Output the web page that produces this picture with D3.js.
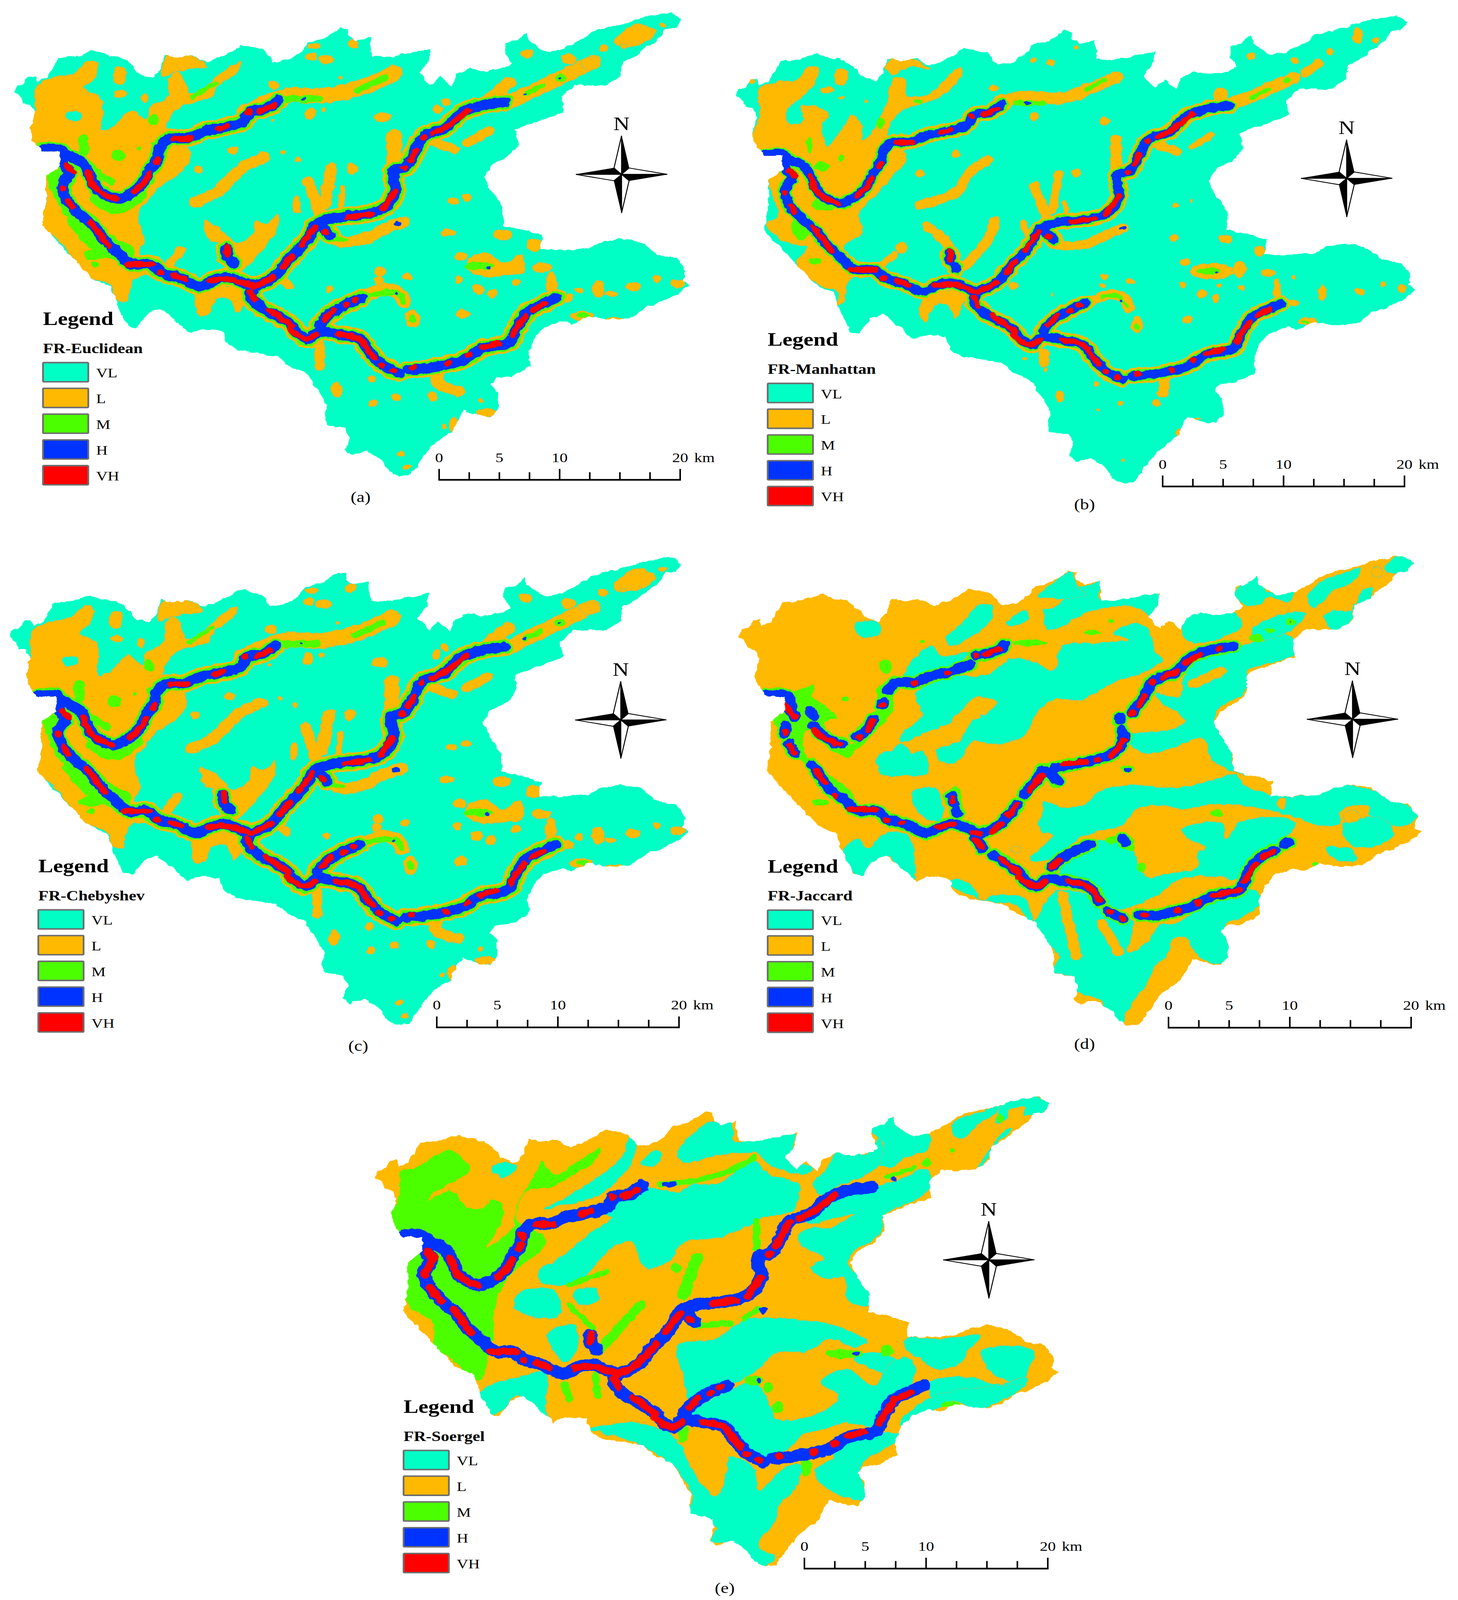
<!DOCTYPE html>
<html>
<head>
<meta charset="utf-8">
<script src="https://cdn.jsdelivr.net/npm/d3@7"></script>
<style>
  html, body { margin: 0; background: #fff; overflow: hidden; }
  text { font-family: "Liberation Serif", serif; fill: #000; }
</style>
</head>
<body>
<div id="chart"></div>
<script>
// classes and their colours
const classes = ["VL", "L", "M", "H", "VH"]
const classColors = ["#00ffc5", "#ffb900", "#4cff00", "#0033ff", "#ff0000"]
const scaleTicks = [0, 2.5, 5, 7.5, 10, 12.5, 15, 17.5, 20]
const scaleLabels = [0, 5, 10, 20]

// basin boundary, same for every map
const basinOutline = [[30,285],[35,265],[52,258],[60,235],[75,232],[80,252],[100,240],[115,205],[125,180],[160,175],[205,155],[235,170],[260,175],[290,205],[297,225],[330,240],[345,215],[355,170],[385,178],[415,170],[445,192],[470,180],[500,160],[520,140],[545,145],[570,155],[590,190],[620,185],[650,160],[665,130],[695,120],[715,105],[735,85],[752,90],[750,110],[770,125],[800,115],[805,175],[835,175],[880,165],[930,150],[925,190],[905,225],[930,262],[950,235],[975,265],[985,230],[1015,210],[1045,220],[1090,210],[1105,195],[1090,165],[1090,135],[1115,125],[1135,100],[1140,125],[1165,150],[1180,160],[1215,150],[1250,125],[1275,100],[1310,85],[1340,75],[1385,55],[1420,45],[1450,38],[1470,60],[1460,85],[1435,90],[1425,115],[1395,145],[1375,170],[1345,190],[1340,235],[1310,262],[1270,265],[1240,262],[1212,300],[1218,345],[1180,365],[1130,390],[1113,400],[1118,445],[1100,480],[1060,510],[1045,545],[1060,590],[1085,640],[1085,695],[1120,705],[1170,725],[1165,770],[1220,770],[1270,765],[1300,745],[1340,735],[1380,745],[1420,785],[1460,795],[1480,835],[1473,865],[1488,878],[1465,905],[1420,935],[1395,945],[1370,975],[1340,985],[1310,985],[1270,975],[1235,1000],[1215,990],[1175,1010],[1155,1040],[1140,1090],[1145,1130],[1105,1160],[1070,1165],[1060,1185],[1075,1210],[1075,1260],[1060,1285],[1030,1280],[1000,1265],[975,1330],[935,1370],[915,1405],[885,1465],[860,1468],[840,1455],[825,1420],[790,1390],[760,1405],[745,1385],[755,1350],[745,1320],[705,1310],[700,1280],[705,1250],[685,1200],[660,1150],[625,1130],[600,1100],[555,1090],[515,1080],[490,1060],[480,1020],[435,1015],[410,1030],[380,990],[345,950],[320,965],[295,1010],[275,1005],[250,930],[240,885],[200,860],[160,800],[120,740],[90,695],[100,620],[98,545],[130,510],[130,467],[90,467],[70,430],[65,395],[75,350],[65,325],[50,320],[45,300]]

// river reaches, same for every map except (d)
const northReach = [[90,463],[130,462],[145,480],[165,492],[185,515],[195,545],[205,575],[225,600],[255,612],[290,590],[310,560],[325,520],[340,490],[345,455],[365,428],[405,425],[440,405],[475,395],[525,375],[540,345],[575,335],[600,310]]
const southReach = [[130,480],[140,515],[150,530],[135,575],[145,620],[175,665],[200,695],[225,740],[255,780],[285,815],[325,815],[350,842],[385,855],[430,882],[465,862],[490,855],[525,872],[545,885],[540,910],[565,950],[600,975],[630,1005],[640,1025],[665,1045],[690,1022],[730,1030],[775,1045],[800,1090],[825,1125],[860,1150]]
const eastReach = [[880,1140],[920,1135],[960,1125],[1000,1110],[1040,1075],[1100,1055],[1115,1010],[1140,960],[1175,935],[1200,918]]
const middleReach = [[545,885],[590,855],[620,805],[660,745],[685,690],[720,672],[790,660],[830,640],[853,590],[848,545],[850,525],[875,515],[895,470],[915,420],[960,395],[1000,345],[1050,322],[1090,315]]
const branchD = [[690,1000],[715,965],[745,940],[780,918]]
const branchE = [[490,790],[488,765]]
const branchE2 = [[500,805],[503,812]]
const spurReach = [[695,700],[712,725]]
const reachesFull = [northReach, southReach, eastReach, middleReach, branchD, branchE, branchE2, spurReach]

// broken reaches of map (d)
const reachesD = [
  [[183,512],[190,525]],[[190,555],[205,580],[225,600],[250,612]],[[283,590],[300,575],[318,535]],[[335,495],[338,485]],
  [[348,450],[365,425],[405,425],[440,405],[475,395],[525,370]],[[536,342],[540,342]],[[555,340],[585,325],[597,310]],
  [[90,463],[130,462],[140,480],[145,500]],[[130,490],[150,530]],[[132,555],[128,580]],[[138,610],[150,640]],
  [[188,675],[205,710],[225,750],[255,780],[285,815],[325,815],[350,842],[385,855],[430,882],[465,862],[490,855],[525,872],[545,885]],
  [[535,900],[550,930]],[[575,950],[600,975],[630,1005],[640,1025],[665,1045],[690,1022],[730,1030],[775,1045],[800,1090]],
  [[820,1122],[850,1143]],[[885,1132],[920,1135],[965,1120],[1000,1105],[1040,1075],[1100,1055],[1115,1010],[1140,960],[1175,935]],
  [[1195,915],[1205,910]],[[545,885],[590,855],[625,795]],[[640,765],[670,715],[680,690]],
  [[705,685],[790,660],[830,640],[853,590],[848,570]],[[845,530],[845,540]],
  [[870,515],[895,470],[915,420],[960,395],[1000,345],[1050,322],[1085,315]],
  [[700,985],[720,960],[745,940],[780,918]],[[850,900],[858,912]],[[490,790],[485,770]],[[494,815],[496,822]],[[695,700],[712,725]]
]

// very high stretches along the rivers
const vhStretches = [
  [[190,530],[200,570],[225,600],[250,612]],[[290,590],[312,560],[322,535]],[[337,500],[342,490]],[[375,428],[410,428]],[[470,398],[490,388]],[[535,345],[538,345]],[[560,342],[590,325]],
  [[143,510],[158,530]],[[134,580],[136,582]],[[147,620],[155,640]],[[195,685],[215,720],[235,760]],[[275,815],[330,815]],[[345,842],[348,842]],[[375,850],[400,862]],
  [[455,865],[490,860],[525,872],[548,885]],[[540,900],[550,925]],[[580,955],[610,985],[630,1005]],[[625,1015],[660,1045],[685,1030]],[[730,1030],[775,1045],[800,1090],[810,1105]],
  [[822,1125],[825,1128]],[[848,1143],[851,1145]],[[890,1133],[894,1133]],[[965,1122],[968,1121]],[[1010,1095],[1013,1093]],[[1040,1072],[1075,1058]],[[1105,1035],[1120,1000],[1135,975]],[[1150,955],[1175,938]],
  [[548,885],[590,855]],[[610,825],[630,790]],[[650,755],[680,700]],[[700,715],[704,718]],[[750,670],[800,660]],[[825,645],[853,590]],[[870,520],[873,518]],[[885,495],[897,465]],[[913,425],[915,422]],[[935,410],[970,385],[1010,340]],
  [[700,985],[720,955]],[[745,942],[748,940]],[[765,925],[768,923]],[[490,785],[490,760]]
]
const vhStretchesD = [
  [[190,570],[215,595],[245,612]],[[288,592],[290,591]],[[305,570],[318,540]],[[335,495],[337,492]],[[405,428],[408,427]],[[475,395],[478,394]],[[535,342],[538,342]],[[555,340],[585,322]],
  [[130,495],[150,530]],[[130,575],[131,578]],[[140,615],[150,640]],[[195,690],[215,730]],[[235,770],[237,772]],[[270,810],[325,812]],[[345,842],[348,843]],[[378,850],[381,851]],
  [[455,865],[490,855]],[[530,880],[545,885]],[[535,905],[550,925]],[[590,960],[630,1005]],[[625,1015],[665,1045],[685,1030]],[[735,1030],[775,1045],[800,1085]],[[822,1122],[825,1125]],[[848,1143],[851,1145]],
  [[895,1132],[898,1132]],[[965,1120],[968,1119]],[[1010,1095],[1013,1093]],[[1045,1072],[1100,1055]],[[1110,1030],[1135,975]],[[1150,955],[1172,938]],
  [[570,880],[590,855]],[[605,830],[625,795]],[[650,755],[680,705]],[[725,672],[770,665]],[[795,660],[798,659]],[[825,650],[853,600]],[[868,518],[871,517]],[[885,495],[897,465]],[[913,425],[915,422]],[[935,410],[965,390]],[[985,365],[1015,340]],[[1055,322],[1058,321]],[[700,985],[715,965]],[[488,785],[487,775]]
]
const vhExtraE = [[[140,515],[150,530],[138,570]],[[145,622],[172,662]],[[345,470],[343,458]],[[895,470],[912,428]],[[1118,1005],[1140,960]],[[755,668],[790,660]],[[580,862],[610,825]]]

// zones of maps (a) and (c), in basin units
const lowPatchesA = [
  [[78,270],[110,240],[160,225],[190,190],[208,195],[205,240],[180,270],[215,300],[222,340],[220,400],[240,395],[285,340],[315,370],[325,330],[360,300],[365,240],[385,222],[400,255],[410,290],[440,270],[480,220],[520,190],[510,225],[470,265],[455,300],[400,322],[375,345],[360,400],[400,440],[410,490],[385,540],[345,575],[320,620],[300,650],[302,700],[312,740],[300,780],[330,840],[290,860],[278,900],[272,930],[250,925],[240,880],[185,850],[160,800],[125,740],[90,695],[100,620],[97,545],[130,510],[130,467],[85,465],[65,400],[75,345]],
  [[440,680],[480,710],[510,750],[545,720],[550,680],[575,690],[600,660],[600,700],[560,780],[515,840],[490,820],[490,755],[450,740],[440,700]],
  [[425,895],[525,895],[530,930],[510,965],[495,920],[465,925],[455,960],[430,975]],
  [[350,235],[362,172],[420,175],[445,205],[400,215],[375,225]],
  [[1010,800],[1050,780],[1085,810],[1125,785],[1130,840],[1085,850],[1050,855],[1010,830]],
  [[1325,130],[1370,75],[1395,80],[1415,100],[1395,130],[1340,145]]
]
const lowStripsA = [
  [[[420,625],[470,590],[520,520],[570,485]], 26],[[[665,560],[690,660]], 24],[[[715,520],[700,630]], 26],[[[740,580],[735,650]], 12],
  [[[850,420],[850,510]], 32],[[[920,430],[980,460]], 22],[[[1010,440],[1055,405]], 22],[[[1100,315],[1150,280],[1210,240],[1280,190]], 34],
  [[[1060,300],[1100,255]], 28],[[[530,345],[620,295],[700,295],[790,265],[850,225]], 38],[[[690,710],[740,745],[790,735],[830,705],[870,685]], 28],
  [[[360,830],[390,770]], 20],[[[690,1060],[690,1130]], 20],[[[950,1125],[945,1180],[990,1205]], 26],[[[640,615],[640,650]], 14],[[[600,855],[625,880]], 18],
  [[[780,918],[830,892],[860,905],[872,932]], 30]
]
const lowBlobsA = [[705,183,18,14],[672,175,12,12],[678,143,14,10],[762,135,12,14],[590,262,13,14],[670,350,12,18],[825,362,18,15],[503,465,11,12],[428,523,10,12],[760,520,13,18],[312,302,8,14],[260,290,14,12],[258,232,15,28],[945,337,9,15],[963,315,9,12],[978,620,12,11],[1008,610,10,11],[968,718,16,12],[1085,725,20,18],[1153,755,16,20],[995,792,14,14],[1170,825,20,15],[990,862,10,11],[1032,892,14,16],[1062,905,11,14],[1115,870,10,12],[820,838,12,14],[817,865,10,14],[878,852,11,11],[710,892,8,11],[998,968,14,15],[890,982,16,28],[802,1168,9,12],[726,1202,12,24],[855,1225,10,12],[933,1222,10,14],[805,1243,9,12],[1190,875,12,40],[1250,895,8,10],[1227,918,12,14],[1292,890,13,28],[1318,905,14,8],[1367,884,16,14],[1418,860,8,12],[1463,875,16,14],[1255,975,25,15],[1325,985,20,6],[1137,165,14,15],[1228,182,16,16],[1303,148,10,12],[1345,143,8,7],[1430,78,8,8],[1275,195,22,20],[1050,1272,25,12],[980,1310,10,25],[958,1315,7,8],[865,1400,9,9],[878,1440,9,8],[1040,1235,5,8],[588,372,5,5],[643,492,7,7],[700,338,6,8],[610,470,6,8],[735,240,5,5]]
const vlBlobsA = [[160,358,18,15]]
const medStripsA = [
  [[[770,280],[830,240]], 15],[[[620,305],[690,305]], 18],[[[415,300],[465,255]], 10],[[[1135,290],[1170,265]], 12],
  [[[210,610],[255,640],[300,600]], 34],[[[180,430],[180,470]], 22],[[[170,680],[215,745],[265,780]], 52],[[[115,540],[130,600],[150,650]], 30],[[[145,480],[240,560]], 18],[[[700,735],[745,740]], 10],[[[815,905],[860,905],[870,930]], 14],[[[780,918],[815,905]], 12]
]
const medBlobsA = [[330,370,11,18],[255,480,15,18],[205,815,10,10],[205,785,26,16],[1035,820,32,12],[890,982,8,14],[1258,972,14,7],[1210,240,12,12],[300,458,5,6],[335,445,10,8]]
const highBlobsA = [[858,690,9,8],[655,305,5,3],[855,905,4,5],[1055,825,5,6],[1210,240,3,3],[1195,918,5,3],[1133,290,4,3]]

// zones of map (b), in crop units
const lowPatchesB = [
  [[70,265],[110,245],[150,240],[175,200],[195,205],[190,250],[170,280],[130,330],[130,370],[165,365],[160,320],[195,320],[220,345],[205,375],[215,440],[240,400],[270,345],[290,380],[290,420],[310,400],[340,320],[360,235],[385,240],[385,285],[430,285],[500,200],[505,220],[460,290],[400,320],[365,345],[345,410],[370,430],[385,480],[355,530],[325,580],[285,640],[290,700],[250,745],[280,790],[320,810],[265,840],[250,910],[235,915],[240,880],[190,850],[150,790],[170,745],[120,725],[85,670],[110,650],[90,540],[120,510],[120,470],[75,465],[55,410],[70,350]],
  [[340,200],[352,178],[400,178],[435,208],[395,200],[355,225]],
  [[425,890],[510,880],[505,920],[490,955],[470,915],[445,920],[425,968],[415,950]]
]
const lowStripsB = [
  [[[415,615],[490,580],[520,520],[560,480]], 22],[[[430,680],[465,720],[490,770]], 22],[[[575,665],[560,720],[510,800]], 22],[[[660,560],[685,650]], 22],
  [[[712,520],[698,630]], 18],[[[725,610],[730,650]], 10],[[[635,670],[650,720]], 14],[[[835,420],[835,510]], 24],[[[925,435],[965,455]], 20],[[[1000,440],[1040,405]], 14],
  [[[680,1060],[680,1090]], 20],[[[940,1135],[935,1180]], 24],[[[700,735],[770,735],[800,715],[850,685]], 22],[[[585,305],[640,290],[720,295],[780,265],[835,232]], 28],
  [[[1080,315],[1150,275],[1215,235]], 30],[[[1240,220],[1270,190]], 20],[[[330,800],[360,765]], 16],[[[770,915],[820,885],[850,895],[862,925]], 24]
]
const lowBlobsB = [[415,521,9,11],[491,463,9,10],[573,265,10,10],[659,350,9,13],[810,365,12,12],[750,520,11,14],[695,188,10,10],[658,182,7,8],[748,143,6,8],[1125,170,10,11],[1218,183,9,10],[1293,155,8,10],[1390,122,8,10],[1353,108,12,24],[963,617,7,7],[997,604,4,5],[960,715,10,10],[1068,718,14,13],[1143,755,12,14],[984,787,12,12],[1040,815,48,24],[1100,810,14,24],[1160,820,16,12],[978,855,8,8],[1020,882,11,13],[1048,897,9,12],[1056,858,5,6],[1103,865,7,8],[1215,833,5,5],[1180,870,8,35],[1216,910,11,10],[1277,880,9,24],[1356,875,11,11],[1408,854,7,9],[1447,866,9,12],[1245,965,22,12],[810,832,8,10],[806,858,6,7],[866,846,9,8],[698,885,3,7],[988,960,11,12],[880,975,13,24],[792,1155,6,7],[714,1190,9,19],[845,1212,6,7],[920,1210,9,12],[795,1233,4,5],[639,1078,5,5],[683,1110,5,6],[850,1385,4,4],[968,1300,6,14],[1010,1260,6,3],[245,232,15,25],[215,270,14,10],[245,293,8,5],[300,305,5,5],[52,245,8,8],[1060,285,16,22],[375,745,12,18],[615,858,10,10]]
const medStripsB = [[[[770,270],[810,240]], 11],[[[620,310],[680,310]], 13],[[[1125,295],[1160,268]], 10],[[[805,892],[840,890],[858,920]], 9]]
const medBlobsB = [[410,305,9,6],[330,370,8,18],[1202,240,8,8],[1035,815,25,10],[880,980,6,10],[1240,966,10,5],[190,785,14,10],[245,475,7,12],[178,435,6,25],[205,500,16,14],[210,615,28,18],[160,680,22,40]]
const highBlobsB = [[645,310,8,5],[850,686,7,5],[1050,820,3,3],[845,902,4,5]]

// zones of map (d), in crop units, L is the ground colour here
const veryLowPatchesD = [
  [[1415,60],[1450,33],[1472,60],[1460,85],[1430,90],[1410,75]],
  [[1245,170],[1270,120],[1340,80],[1360,72],[1345,115],[1300,145],[1260,200]],
  [[1090,150],[1135,100],[1160,150],[1215,150],[1205,180],[1165,165],[1130,195],[1095,175]],
  [[1300,270],[1280,230],[1300,210],[1345,205],[1360,150],[1385,135],[1375,175],[1345,190],[1340,235],[1310,270]],
  [[1190,280],[1218,300],[1218,345],[1180,370],[1115,400],[1118,445],[1100,480],[1060,510],[1045,545],[1060,590],[1085,620],[1085,695],[1120,725],[1090,720],[1040,680],[1030,640],[1020,610],[960,640],[900,660],[870,640],[865,600],[930,590],[985,560],[965,530],[935,505],[920,470],[970,480],[980,420],[1010,360],[1050,340],[1100,320],[1180,290]],
  [[375,600],[420,540],[405,470],[480,420],[560,410],[610,360],[660,370],[700,400],[720,320],[800,310],[860,300],[830,280],[870,250],[900,260],[920,340],[935,360],[900,400],[840,430],[800,460],[760,490],[700,490],[665,530],[640,600],[580,630],[530,620],[490,690],[455,680],[450,650],[500,620],[520,570],[580,500],[540,480],[500,530],[470,570],[430,590],[375,625]],
  [[325,665],[355,650],[375,630],[400,660],[420,650],[430,720],[370,730],[330,725]],
  [[680,810],[720,830],[770,820],[800,780],[870,760],[960,770],[1050,740],[1090,725],[1110,760],[1170,790],[1230,795],[1320,760],[1370,770],[1440,810],[1480,850],[1470,880],[1425,890],[1380,860],[1375,825],[1315,840],[1315,880],[1280,890],[1215,860],[1130,830],[1050,820],[975,835],[935,825],[880,835],[850,885],[800,905],[760,925],[700,990],[650,1000],[680,950],[700,920],[670,900],[680,830]],
  [[720,1000],[770,950],[840,935],[880,990],[880,1010],[900,1050],[950,1040],[1010,1020],[1010,975],[1030,960],[990,930],[975,900],[1060,880],[1070,930],[1100,880],[1170,860],[1220,880],[1180,950],[1120,1010],[1090,1060],[1060,1050],[1000,1050],[970,1060],[920,1110],[870,1145],[830,1150],[780,1090],[720,1060]],
  [[480,1060],[520,1070],[550,1130],[570,1110],[640,1120],[660,1190],[700,1100],[760,1100],[800,1150],[870,1190],[860,1290],[900,1260],[930,1200],[960,1200],[985,1180],[1060,1120],[1130,1090],[1145,1130],[1110,1175],[1070,1200],[1075,1260],[1075,1320],[1030,1320],[1010,1300],[1000,1280],[980,1240],[955,1250],[945,1300],[920,1330],[900,1390],[860,1470],[845,1520],[820,1480],[800,1440],[760,1420],[745,1405],[745,1370],[700,1350],[715,1300],[700,1280],[670,1225],[650,1200],[620,1140],[570,1130],[540,1120],[480,1075]],
  [[250,965],[285,930],[300,960],[345,910],[390,920],[400,1070],[380,1040],[345,985],[320,1000],[295,1045],[275,1040]],
  [[400,780],[450,770],[460,870],[430,870],[400,820]],
  [[275,250],[325,245],[325,285],[285,290]],
  [[510,240],[540,190],[570,190],[560,250],[480,320],[470,300]],
  [[600,250],[640,205],[645,240],[610,255]],
  [[680,205],[700,200],[745,140],[780,125],[800,115],[800,170],[870,160],[925,150],[925,190],[910,225],[870,195],[780,210],[690,270],[680,220]],
  [[670,155],[700,120],[740,85],[750,130],[770,160],[700,170],[670,165]],
  [[380,420],[400,360],[440,320],[460,350],[520,340],[510,360],[450,400],[390,425]],
  [[985,230],[1015,210],[1090,215],[1105,255],[1050,300],[1000,310],[980,290]],
  [[1125,270],[1170,230],[1240,215],[1210,270],[1150,300]],
  [[1320,885],[1405,865],[1430,915],[1400,950],[1345,955]],
  [[1285,960],[1340,965],[1350,1000],[1300,990]]
]
const lowStripsD = [[[[720,1110],[750,1300]], 22],[[[805,1200],[840,1285]], 22],[[[1000,440],[1060,400]], 22],[[[1395,85],[1395,88]], 22]]
const lowBlobsD = [[620,965,10,10],[1190,820,10,20],[1340,860,18,20]]
const medPatchesD = [[[80,470],[130,465],[170,450],[185,445],[185,480],[230,530],[235,550],[210,560],[240,630],[280,620],[275,590],[310,540],[330,510],[320,455],[340,440],[360,500],[350,540],[320,590],[300,620],[260,670],[225,650],[170,590],[165,640],[175,680],[260,770],[270,790],[270,830],[200,740],[160,680],[130,620],[100,550],[125,525]]]
const medBlobsD = [[340,385,14,22],[825,240,8,6],[785,278,18,8],[1210,243,11,12],[1135,295,14,14],[1165,270,10,8],[650,310,38,10],[420,305,7,5],[255,488,7,7],[1050,850,15,10],[890,1020,10,16],[1260,1010,8,5],[200,815,18,10],[860,710,14,12],[825,935,14,12],[865,955,10,14],[495,830,12,18],[490,790,12,25],[710,745,14,14]]
const highBlobsD = [[860,712,9,7],[853,935,4,7],[1210,243,2,2]]

// zones of map (e), in crop units, L is the ground colour here
const veryLowPatchesE = [
  [[1375,85],[1440,68],[1475,90],[1460,115],[1420,125],[1420,100],[1390,110],[1385,135],[1360,150],[1370,100]],
  [[1270,150],[1330,115],[1370,95],[1360,120],[1330,145],[1290,195],[1275,190]],
  [[1095,165],[1140,130],[1165,165],[1220,180],[1215,230],[1170,250],[1140,280],[1100,260],[1125,210]],
  [[1320,290],[1340,240],[1385,165],[1395,170],[1365,205],[1340,260]],
  [[1215,285],[1222,340],[1190,380],[1125,420],[1120,470],[1100,500],[1060,530],[1050,570],[1085,620],[1095,690],[1050,680],[1040,610],[1000,610],[970,580],[995,550],[950,510],[945,480],[970,460],[1010,460],[1060,420],[1000,440],[960,450],[985,390],[1070,350],[1150,320]],
  [[405,405],[470,355],[570,250],[590,185],[600,220],[590,270],[520,365],[450,390]],
  [[610,270],[640,230],[655,235],[640,275]],
  [[690,230],[750,150],[800,140],[810,205],[860,190],[935,180],[930,240],[950,270],[975,280],[960,300],[880,270],[860,240],[770,245],[700,265]],
  [[535,420],[600,340],[650,345],[690,355],[720,330],[770,330],[850,260],[880,300],[930,320],[945,330],[930,410],[870,430],[830,460],[770,490],[700,505],[670,560],[620,580],[590,500],[540,530],[490,610],[455,630],[400,620],[395,590],[440,550],[510,470],[550,430]],
  [[1000,290],[1030,230],[1090,240],[1115,190],[1120,260],[1090,300],[1020,340],[990,360],[975,330]],
  [[350,660],[385,640],[430,650],[440,720],[400,730],[345,700]],
  [[470,650],[515,640],[520,680],[480,690]],
  [[415,770],[470,750],[475,830],[450,860],[420,810]],
  [[690,810],[770,790],[830,735],[920,730],[1040,760],[1090,800],[1060,815],[1010,790],[960,830],[900,830],[860,880],[830,910],[750,950],[720,990],[700,900]],
  [[1170,790],[1250,790],[1330,780],[1300,830],[1290,860],[1240,880],[1200,850],[1170,820]],
  [[1330,830],[1400,810],[1440,830],[1430,880],[1410,920],[1360,900],[1340,870]],
  [[1220,920],[1300,905],[1370,925],[1425,905],[1420,935],[1350,950],[1270,970],[1230,970]],
  [[1090,830],[1150,850],[1180,890],[1140,900],[1100,880],[1060,850]],
  [[295,280],[330,265],[350,280],[320,310]],
  [[720,1010],[790,950],[850,920],[885,990],[900,1030],[990,1010],[1030,960],[990,920],[1050,880],[1100,930],[1140,860],[1180,850],[1190,900],[1130,1000],[1100,1050],[1040,1040],[1000,1060],[960,1070],[920,1120],[870,1145],[830,1130],[790,1070],[720,1040]],
  [[270,950],[360,900],[410,890],[410,1000],[420,1040],[385,1000],[350,960],[320,1000],[290,1015]],
  [[500,1060],[590,1040],[680,1080],[720,1180],[770,1260],[790,1200],[800,1140],[850,1175],[860,1240],[920,1170],[950,1170],[935,1240],[900,1290],[900,1320],[860,1410],[895,1440],[870,1468],[830,1440],[790,1400],[760,1390],[770,1350],[710,1310],[720,1260],[680,1170],[640,1130],[600,1100],[530,1070]],
  [[1000,1110],[1140,1070],[1170,1080],[1120,1120],[1075,1170],[1085,1270],[1040,1260],[990,1220],[980,1180],[1020,1140]],
  [[1160,1040],[1230,960],[1300,940],[1420,930],[1350,990],[1310,995],[1270,975],[1230,1005],[1170,1060]]
]
const lowBlobsE = []
const medPatchesE = [[[105,290],[130,285],[210,230],[250,290],[220,320],[180,350],[160,380],[210,350],[245,400],[280,400],[295,375],[315,385],[320,430],[285,520],[340,460],[350,390],[395,280],[400,260],[430,300],[480,260],[525,225],[510,265],[470,300],[420,340],[370,350],[350,440],[410,490],[400,530],[360,570],[330,610],[305,680],[300,730],[300,790],[290,830],[280,900],[270,915],[210,850],[175,810],[170,740],[120,690],[115,560],[130,540],[100,480],[85,420],[100,370]]]
const medStripsE = [[[[460,690],[510,760]], 14],[[[610,690],[520,830]], 22],[[[855,440],[855,520]], 16],[[[650,330],[720,320],[800,290],[850,250]], 13],[[[730,550],[700,660]], 26],[[[540,590],[460,630]], 12],[[[730,750],[800,745]], 16],[[[830,730],[860,700]], 14],[[[1130,310],[1190,280]], 11],[[[450,930],[460,970]], 18],[[[515,900],[520,960]], 16]]
const medBlobsE = [[1040,835,40,14],[1130,825,14,16],[900,995,12,18],[1265,985,20,10],[1370,135,8,12],[850,915,18,14],[880,935,10,14],[700,1070,12,30],[960,1170,12,28],[1215,265,10,12],[1270,230,6,6],[685,580,12,14]]
const highBlobsE = [[670,330,16,8],[870,705,10,10],[1065,835,8,6],[1145,315,6,6],[860,915,4,7]]

// river drawing widths, in basin units
const riverWidthsA = { low: 46, med: 36, high: 25, vh: 14 }
const riverWidthsB = { low: 40, med: 30, high: 22, vh: 13 }
const riverWidthsD = { low: 0, med: 34, high: 24, vh: 14 }
const riverWidthsE = { low: 0, med: 0, high: 30, vh: 17 }

// north arrow, unit square
const compassBlack = [[[0,0],[0,-1],[0.165,-0.165]],[[0,0],[-1,0],[-0.165,-0.165]],[[0,0],[1,0],[0.165,0.165]],[[0,0],[0,1],[-0.165,0.165]]]
const compassWhite = [[[0,0],[0,-1],[-0.165,-0.165]],[[0,0],[-1,0],[-0.165,0.165]],[[0,0],[1,0],[0.165,-0.165]],[[0,0],[0,1],[0.165,0.165]]]

const width = 3732
const height = 4845

// the browser window can be shorter than the figure, so the figure is fitted to it
const svg = d3.select("#chart").append("svg")
  .attr("width", window.innerWidth)
  .attr("height", window.innerHeight)
  .attr("viewBox", "0 0 " + width + " " + height)
  .attr("preserveAspectRatio", "none")
  .style("display", "block")

const defs = svg.append("defs")
const rough = defs.append("filter")
  .attr("id", "rough")
  .attr("filterUnits", "userSpaceOnUse")
  .attr("x", 0).attr("y", 0).attr("width", width).attr("height", height)
  .attr("color-interpolation-filters", "sRGB")
rough.append("feTurbulence")
  .attr("type", "fractalNoise").attr("baseFrequency", 0.05)
  .attr("numOctaves", 3).attr("seed", 7).attr("result", "noise")
rough.append("feDisplacementMap")
  .attr("in", "SourceGraphic").attr("in2", "noise")
  .attr("scale", 12).attr("xChannelSelector", "R").attr("yChannelSelector", "G")

const panels = [
  { id: "a", name: "FR-Euclidean", caption: "(a)", capX: 923, capY: 1520,
    xr: [36, 1765], yr: [37, 1442], legend: [110, 1098], north: [1591, 528], bar: [1124, 1741, 1453],
    ground: 0, widths: riverWidthsA, reaches: reachesFull, vh: vhStretches,
    low: lowPatchesA, lowStrips: lowStripsA, lowBlobs: lowBlobsA, vlBlobs: vlBlobsA,
    medStrips: medStripsA, medBlobs: medBlobsA, highBlobs: highBlobsA },
  { id: "b", name: "FR-Manhattan", caption: "(b)", capX: 2776, capY: 1542,
    xr: [1884, 3622], yr: [45, 1464], legend: [1965, 1161], north: [3447, 540], bar: [2976, 3595, 1473],
    ground: 0, widths: riverWidthsB, reaches: reachesFull, vh: vhStretches,
    crop: [1860, 0, 1872, 1580], low: lowPatchesB, lowStrips: lowStripsB, lowBlobs: lowBlobsB,
    medStrips: medStripsB, medBlobs: medBlobsB, highBlobs: highBlobsB },
  { id: "c", name: "FR-Chebyshev", caption: "(c)", capX: 917, capY: 3182,
    xr: [24, 1765], yr: [1685, 3103], legend: [98, 2755], north: [1589, 2180], bar: [1118, 1738, 3111],
    ground: 0, widths: riverWidthsA, reaches: reachesFull, vh: vhStretches,
    low: lowPatchesA, lowStrips: lowStripsA, lowBlobs: lowBlobsA, vlBlobs: vlBlobsA,
    medStrips: medStripsA, medBlobs: medBlobsA, highBlobs: highBlobsA },
  { id: "d", name: "FR-Jaccard", caption: "(d)", capX: 2776, capY: 3176,
    xr: [1890, 3639], yr: [1682, 3105], legend: [1965, 2756], north: [3462, 2178], bar: [2991, 3612, 3112],
    ground: 1, widths: riverWidthsD, reaches: reachesD, vh: vhStretchesD,
    crop: [1860, 1650, 1872, 1500], vlPatches: veryLowPatchesD, lowStrips: lowStripsD, lowBlobs: lowBlobsD,
    medPatches: medPatchesD, medBlobs: medBlobsD, highBlobs: highBlobsD },
  { id: "e", name: "FR-Soergel", caption: "(e)", capX: 1855, capY: 4824,
    xr: [961, 2708], yr: [3319, 4743], legend: [1033, 4392], north: [2531, 3815], bar: [2059, 2682, 4750],
    ground: 1, widths: riverWidthsE, reaches: reachesFull, vh: vhStretches.concat(vhExtraE),
    crop: [900, 3250, 1900, 1595], vlPatches: veryLowPatchesE, lowBlobs: lowBlobsE,
    medPatches: medPatchesE, medStrips: medStripsE, medBlobs: medBlobsE, highBlobs: highBlobsE }
]

const legendPitch = 78
const legendBoxW = 116
const legendBoxH = 58
const edgeColor = "#86c98a"

function drawZones(layer, x, y, k, polygons, strips, blobs, color, edge) {
  const closed = d3.line().x(d => x(d[0])).y(d => y(d[1])).curve(d3.curveCatmullRomClosed.alpha(0.5))
  const open = d3.line().x(d => x(d[0])).y(d => y(d[1])).curve(d3.curveCatmullRom.alpha(0.5))
  if (strips && edge) {
    layer.append("g").selectAll("path").data(strips).join("path")
      .attr("d", d => open(d[0]))
      .attr("fill", "none").attr("stroke", edge).attr("stroke-linecap", "round").attr("stroke-linejoin", "round")
      .attr("stroke-width", d => d[1] * k + 3)
  }
  layer.append("g").selectAll("path").data(polygons || []).join("path")
    .attr("d", closed)
    .attr("fill", color)
    .attr("stroke", edge || "none").attr("stroke-width", 1.5)
  layer.append("g").selectAll("path").data(strips || []).join("path")
    .attr("d", d => open(d[0]))
    .attr("fill", "none").attr("stroke", color).attr("stroke-linecap", "round").attr("stroke-linejoin", "round")
    .attr("stroke-width", d => d[1] * k)
  layer.append("g").selectAll("ellipse").data(blobs || []).join("ellipse")
    .attr("cx", d => x(d[0])).attr("cy", d => y(d[1]))
    .attr("rx", d => Math.abs(x(d[2]) - x(0))).attr("ry", d => Math.abs(y(d[3]) - y(0)))
    .attr("fill", color)
    .attr("stroke", edge || "none").attr("stroke-width", 1.5)
}

function drawRivers(layer, line, reaches, width, color) {
  if (!width) return
  layer.append("g").selectAll("path").data(reaches).join("path")
    .attr("d", line)
    .attr("fill", "none").attr("stroke", color)
    .attr("stroke-width", width).attr("stroke-linecap", "round").attr("stroke-linejoin", "round")
}

function drawMap(p) {
  const x = d3.scaleLinear().domain([30, 1488]).range(p.xr)
  const y = d3.scaleLinear().domain([38, 1468]).range(p.yr)
  const k = (p.xr[1] - p.xr[0]) / (1488 - 30)

  // zones are read either in basin units or in the units of the crop
  let zx = x
  let zy = y
  if (p.crop) {
    zx = d3.scaleLinear().domain([0, 1568]).range([p.crop[0], p.crop[0] + p.crop[2]])
    zy = d3.scaleLinear().domain([0, 1568]).range([p.crop[1], p.crop[1] + p.crop[3]])
  }

  const border = d3.line().x(d => x(d[0])).y(d => y(d[1])).curve(d3.curveLinearClosed)
  const river = d3.line().x(d => x(d[0])).y(d => y(d[1])).curve(d3.curveCatmullRom.alpha(0.5))

  defs.append("clipPath").attr("id", "basin-" + p.id)
    .append("path").attr("d", border(basinOutline))

  const roughLayer = svg.append("g").attr("filter", "url(#rough)")
  const map = roughLayer.append("g").attr("clip-path", "url(#basin-" + p.id + ")")

  map.append("path").attr("d", border(basinOutline)).attr("fill", classColors[p.ground])

  if (p.vlPatches) drawZones(map, zx, zy, k, p.vlPatches, null, null, classColors[0], edgeColor)
  drawZones(map, zx, zy, k, p.low, p.lowStrips, p.lowBlobs, classColors[1], edgeColor)
  if (p.vlBlobs) drawZones(map, zx, zy, k, null, null, p.vlBlobs, classColors[0], edgeColor)

  drawRivers(map, river, p.reaches, p.widths.low * k, classColors[1])
  drawZones(map, zx, zy, k, p.medPatches, p.medStrips, p.medBlobs, classColors[2])
  drawRivers(map, river, p.reaches, p.widths.med * k, classColors[2])
  drawRivers(map, river, p.reaches, p.widths.high * k, classColors[3])
  drawZones(map, zx, zy, k, null, null, p.highBlobs, classColors[3])
  drawRivers(map, river, p.vh, p.widths.vh * k, classColors[4])
}

function drawLegend(p) {
  const g = svg.append("g")
  const left = p.legend[0]
  const top = p.legend[1]
  const rowY = d3.scaleLinear().domain([0, 1]).range([top, top + legendPitch])

  g.append("text").attr("x", left).attr("y", top - 114)
    .attr("font-size", 57).attr("font-weight", "bold").text("Legend")
  g.append("text").attr("x", left).attr("y", top - 29)
    .attr("font-size", 43).attr("font-weight", "bold").text(p.name)

  const rows = g.selectAll("g").data(classes).join("g")
  rows.append("rect")
    .attr("x", left).attr("y", (d, i) => rowY(i))
    .attr("width", legendBoxW).attr("height", legendBoxH).attr("rx", 2)
    .attr("fill", (d, i) => classColors[i])
    .attr("stroke", "#6e6e6e").attr("stroke-width", 4.5)
  rows.append("text")
    .attr("x", left + 136).attr("y", (d, i) => rowY(i) + 45)
    .attr("font-size", 41).text(d => d)
}

function drawNorth(p) {
  const g = svg.append("g")
  const nx = d3.scaleLinear().domain([-1, 1]).range([p.north[0] - 117, p.north[0] + 117])
  const ny = d3.scaleLinear().domain([-1, 1]).range([p.north[1] - 117, p.north[1] + 117])
  const tri = d3.line().x(d => nx(d[0])).y(d => ny(d[1])).curve(d3.curveLinearClosed)

  g.selectAll("path.w").data(compassWhite).join("path").attr("class", "w")
    .attr("d", tri).attr("fill", "#fff").attr("stroke", "#000").attr("stroke-width", 2.5).attr("stroke-linejoin", "miter")
  g.selectAll("path.b").data(compassBlack).join("path").attr("class", "b")
    .attr("d", tri).attr("fill", "#000").attr("stroke", "#000").attr("stroke-width", 1)
  g.append("text").attr("x", p.north[0]).attr("y", p.north[1] - 134)
    .attr("text-anchor", "middle").attr("font-size", 58).text("N")
}

function drawScaleBar(p) {
  const g = svg.append("g")
  const sx = d3.scaleLinear().domain([0, 20]).range([p.bar[0], p.bar[1]])
  const base = p.bar[2]

  g.append("line").attr("x1", sx(0) - 2).attr("x2", sx(20) + 2).attr("y1", base).attr("y2", base)
    .attr("stroke", "#000").attr("stroke-width", 5)
  g.selectAll("line.t").data(scaleTicks).join("line").attr("class", "t")
    .attr("x1", sx).attr("x2", sx)
    .attr("y1", base)
    .attr("y2", d => base - (d % 10 === 0 ? 33 : 23))
    .attr("stroke", "#000").attr("stroke-width", 4)
  g.selectAll("text").data(scaleLabels).join("text")
    .attr("x", sx).attr("y", base - 54)
    .attr("text-anchor", "middle").attr("font-size", 41).text(d => d)
  g.append("text").attr("x", sx(20) + 36).attr("y", base - 54)
    .attr("font-size", 41).text("km")
}

panels.forEach(p => {
  drawMap(p)
  drawLegend(p)
  drawNorth(p)
  drawScaleBar(p)
  svg.append("text").attr("x", p.capX).attr("y", p.capY)
    .attr("text-anchor", "middle").attr("font-size", 46).text(p.caption)
})
</script>
</body>
</html>
